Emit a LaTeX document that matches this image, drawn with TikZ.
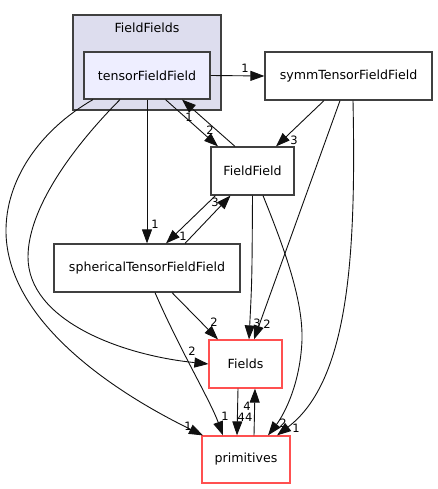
\documentclass[tikz,border=0pt]{standalone}
\usepackage{fontspec}
\setmainfont{DejaVu Sans}
\usetikzlibrary{arrows.meta}
\definecolor{boxline}{HTML}{404040}
\definecolor{redline}{HTML}{FF5050}
\definecolor{clusterfill}{HTML}{DDDDEE}
\definecolor{nodefill}{HTML}{EEEEFF}
\definecolor{edgecol}{HTML}{101010}
\tikzset{
  dirbox/.style={draw=boxline, line width=1.2pt, fill=white, rectangle, inner sep=0pt,
    font=\fontsize{12.6}{14}\selectfont},
  redbox/.style={dirbox, draw=redline},
  dep/.style={draw=edgecol, line width=0.9pt, -{Triangle[length=14pt,width=10pt]}},
  lab/.style={font=\fontsize{11.5}{13}\selectfont, inner sep=0pt, text=black},
}
\begin{document}
\begin{tikzpicture}[x=1pt,y=-1pt]
\useasboundingbox (0,0) rectangle (437,489);
% cluster
\node[draw=boxline, line width=1.2pt, fill=clusterfill, rectangle, inner sep=0pt,
  minimum width=148pt, minimum height=95pt] (cl) at (147,62.5) {};
\node[lab, font=\fontsize{12.6}{14}\selectfont] (cllab) at (147,28) {FieldFields};
% nodes
\node[dirbox, fill=nodefill, minimum width=126pt, minimum height=47pt] (tff) at (147,75.5) {tensorFieldField};
\node[dirbox, minimum width=167pt, minimum height=48pt] (symm) at (348.5,76) {symmTensorFieldField};
\node[dirbox, minimum width=83pt, minimum height=48pt] (ff) at (252.5,171) {FieldField};
\node[dirbox, minimum width=186pt, minimum height=48pt] (stff) at (147,268) {sphericalTensorFieldField};
\node[redbox, minimum width=73pt, minimum height=48pt] (fields) at (245.5,364) {Fields};
\node[redbox, minimum width=88pt, minimum height=47pt] (prim) at (246,459.5) {primitives};
% edges
\draw[dep] (tff.east) -- (symm.west);
\node[lab] (l1) at (245,68) {1};
\draw[dep] ([xshift=18.5pt]tff.south) -- ([xshift=-34.5pt]ff.north);
\node[lab] (l2) at (210,130) {2};
\draw[dep] ([xshift=-17.5pt]ff.north) -- ([xshift=35pt]tff.south);
\node[lab] (l3) at (189,117) {1};
\draw[dep] ([xshift=-24.5pt]symm.south) -- ([xshift=23.5pt]ff.north);
\node[lab] (l4) at (294,140) {3};
\draw[dep] (tff.south) -- (stff.north);
\node[lab] (l5) at (155,224) {1};
\draw[dep] ([xshift=38pt]stff.north) -- ([xshift=-22pt]ff.south);
\node[lab] (l6) at (215,202) {3};
\draw[dep] ([xshift=-37pt]ff.south) -- ([xshift=19pt]stff.north);
\node[lab] (l7) at (183,236) {1};
\draw[dep] ([xshift=-27pt]tff.south) .. controls (70,150) and (28,210) .. (28,257)
  .. controls (28,320) and (120,355) .. (fields.west);
\node[lab] (l8) at (192,351) {2};
\draw[dep] ([xshift=-54pt]tff.south) .. controls (40,130) and (5,180) .. (6,233)
  .. controls (8,320) and (110,390) .. ([xshift=-43pt]prim.north);
\node[lab] (l9) at (188,426) {1};
\draw[dep] ([xshift=25pt]stff.south) -- ([xshift=-27.5pt]fields.north);
\node[lab] (l10) at (214,322) {2};
\draw[dep] ([xshift=8pt]stff.south) .. controls (180,350) and (210,400) .. ([xshift=-23pt]prim.north);
\node[lab] (l11) at (225,416) {1};
\draw[dep] (ff.south) .. controls (252,280) .. ([xshift=3.5pt]fields.north);
\node[lab] (l12) at (257,323) {3};
\draw[dep] ([xshift=-8.5pt]symm.south) -- ([xshift=8.5pt]fields.north);
\node[lab] (l13) at (267,324) {2};
\draw[dep] ([xshift=10.5pt]ff.south) .. controls (285,250) and (303,300) .. (302,340)
  .. controls (300,390) and (280,420) .. ([xshift=22pt]prim.north);
\node[lab] (l14) at (283,423) {2};
\draw[dep] ([xshift=4.5pt]symm.south) .. controls (356,250) and (350,380) .. ([xshift=31pt]prim.north);
\node[lab] (l15) at (296,428) {1};
\draw[dep] ([xshift=-7.5pt]fields.south) -- ([xshift=-9pt]prim.north);
\node[lab] (l16) at (245,417) {44};
\draw[dep] ([xshift=8pt]prim.north) -- ([xshift=9.5pt]fields.south);
\node[lab] (l17) at (247,406) {4};
\end{tikzpicture}
\end{document}
